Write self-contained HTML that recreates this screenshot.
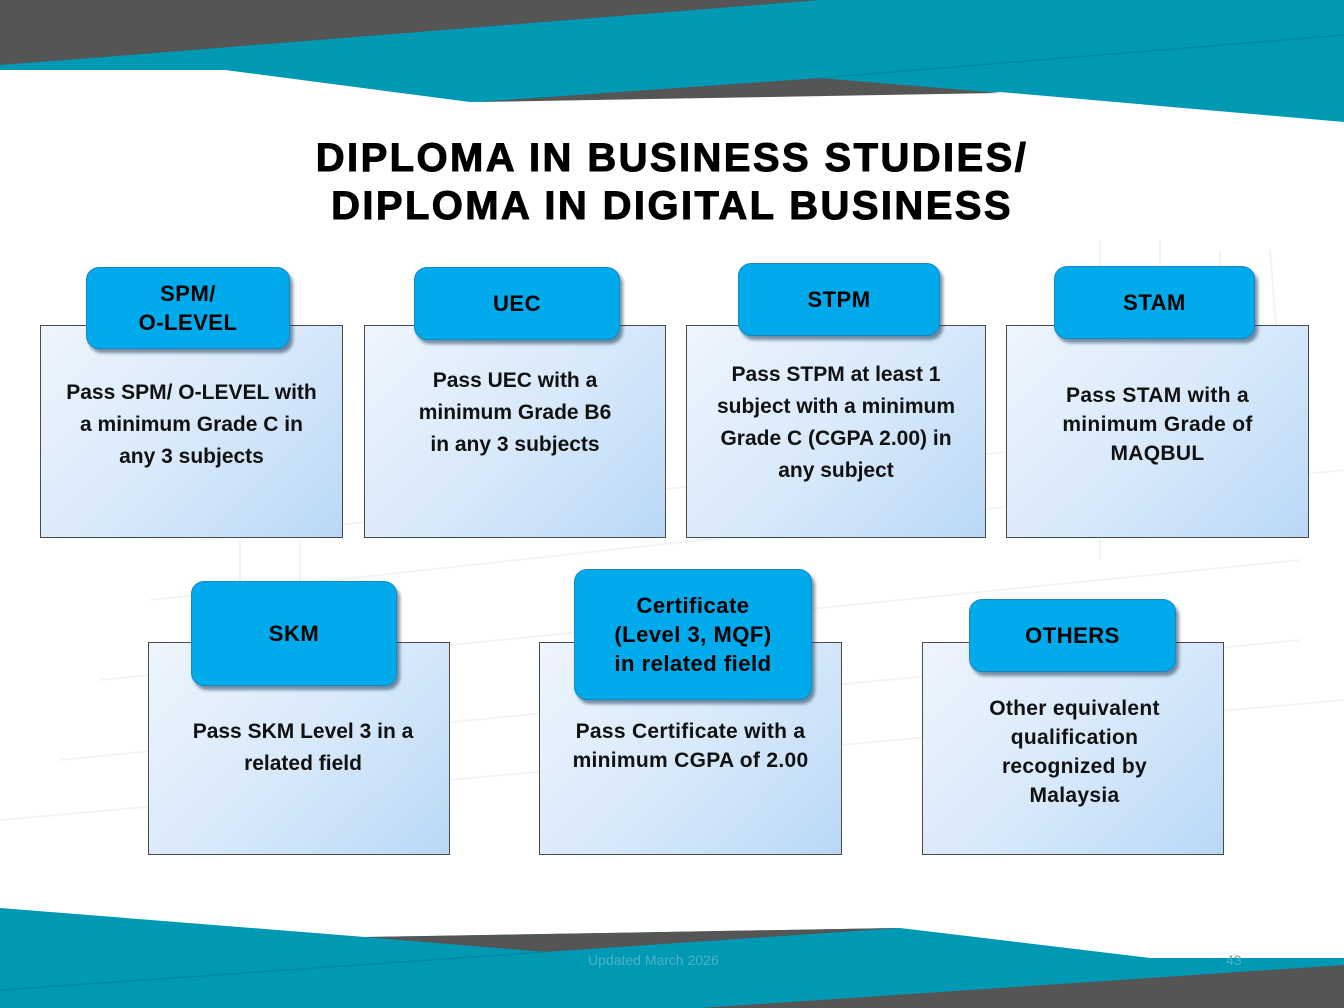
<!DOCTYPE html>
<html><head><meta charset="utf-8"><style>
html,body{margin:0;padding:0;}
body{width:1344px;height:1008px;position:relative;overflow:hidden;background:#fff;font-family:"Liberation Sans",sans-serif;}
svg.bg{position:absolute;left:0;top:0;}
.title{position:absolute;left:0;width:1344px;top:134px;text-align:center;font-weight:bold;font-size:40px;line-height:48px;color:#000;-webkit-text-stroke:1px #000;letter-spacing:2.4px;}
.box{position:absolute;border:1px solid #4a4a4a;background:linear-gradient(135deg,#eef5fd 0%,#d6e8fa 55%,#b9d8f6 100%);box-sizing:border-box;}
.hd{position:absolute;background:#00aaeb;border:1px solid #1b86c0;border-radius:13px;box-sizing:border-box;box-shadow:3px 4px 3px rgba(20,60,90,0.55);display:flex;align-items:center;justify-content:center;text-align:center;font-weight:bold;font-size:22px;line-height:29px;color:#000;letter-spacing:0.5px;}
.tx{position:absolute;text-align:center;font-weight:bold;color:#111;font-size:21px;line-height:32px;}
.ar{font-size:21px;line-height:29px;letter-spacing:0.3px;}
.foot{position:absolute;left:588px;top:952px;font-size:14px;color:#4fb0c6;}
.pg{position:absolute;left:1226px;top:952px;font-size:14px;color:#4fb0c6;}
</style></head><body>
<svg class="bg" width="1344" height="1008" viewBox="0 0 1344 1008">
<g stroke="#f3f3f3" stroke-width="2" fill="none">
<path d="M200 540 L1300 420 M150 600 L1344 470 M100 680 L1300 560 M60 760 L1300 640 M0 820 L1344 700"/>
<path d="M1100 240 L1100 560 M1160 240 L1160 540 M1220 250 L1220 520 M1270 250 L1290 500 M240 540 L240 600 M300 540 L300 600"/>
</g>
<polygon points="0,0 1344,0 1344,122 1000,92 470,102 225,70 0,70" fill="#0099b4"/>
<polygon points="0,0 820,0 130,55 0,65" fill="#555555"/>
<polygon points="478,102 820,78 1000,93" fill="#555555"/>
<line x1="820" y1="78" x2="1344" y2="35" stroke="#0089a2" stroke-width="1.5"/>
<polygon points="0,908 365,937 900,928 1150,958 1344,958 1344,1008 0,1008" fill="#0099b4"/>
<polygon points="365,937 900,928 545,952" fill="#555555"/>
<polygon points="700,1008 1344,965 1344,1008" fill="#555555"/>
<line x1="0" y1="990" x2="545" y2="952" stroke="#0089a2" stroke-width="1.5"/>
</svg>
<div class="title">DIPLOMA IN BUSINESS STUDIES/<br>DIPLOMA IN DIGITAL BUSINESS</div>

<div class="box" style="left:40px;top:325px;width:303px;height:213px"></div>
<div class="box" style="left:364px;top:325px;width:302px;height:213px"></div>
<div class="box" style="left:686px;top:325px;width:300px;height:213px"></div>
<div class="box" style="left:1006px;top:325px;width:303px;height:213px"></div>
<div class="box" style="left:148px;top:642px;width:302px;height:213px"></div>
<div class="box" style="left:539px;top:642px;width:303px;height:213px"></div>
<div class="box" style="left:922px;top:642px;width:302px;height:213px"></div>

<div class="hd" style="left:86px;top:267px;width:204px;height:82px">SPM/<br>O-LEVEL</div>
<div class="hd" style="left:414px;top:267px;width:206px;height:73px">UEC</div>
<div class="hd" style="left:738px;top:263px;width:202px;height:73px">STPM</div>
<div class="hd" style="left:1054px;top:266px;width:201px;height:73px">STAM</div>
<div class="hd" style="left:191px;top:581px;width:206px;height:105px">SKM</div>
<div class="hd" style="left:574px;top:569px;width:238px;height:131px">Certificate<br>(Level 3, MQF)<br>in related field</div>
<div class="hd" style="left:969px;top:599px;width:207px;height:73px">OTHERS</div>

<div class="tx" style="left:40px;top:377px;width:303px">Pass SPM/ O-LEVEL with<br>a minimum Grade C in<br>any 3 subjects</div>
<div class="tx" style="left:364px;top:365px;width:302px">Pass UEC with a<br>minimum Grade B6<br>in any 3 subjects</div>
<div class="tx" style="left:686px;top:359px;width:300px">Pass STPM at least 1<br>subject with a minimum<br>Grade C (CGPA 2.00) in<br>any subject</div>
<div class="tx ar" style="left:1006px;top:381px;width:303px">Pass STAM with a<br>minimum Grade of<br>MAQBUL</div>
<div class="tx" style="left:148px;top:716px;width:310px">Pass SKM Level 3 in a<br>related field</div>
<div class="tx ar" style="left:539px;top:717px;width:303px">Pass Certificate with a<br>minimum CGPA of 2.00</div>
<div class="tx ar" style="left:922px;top:694px;width:305px">Other equivalent<br>qualification<br>recognized by<br>Malaysia</div>

<div class="foot">Updated March 2026</div>
<div class="pg">43</div>
</body></html>
